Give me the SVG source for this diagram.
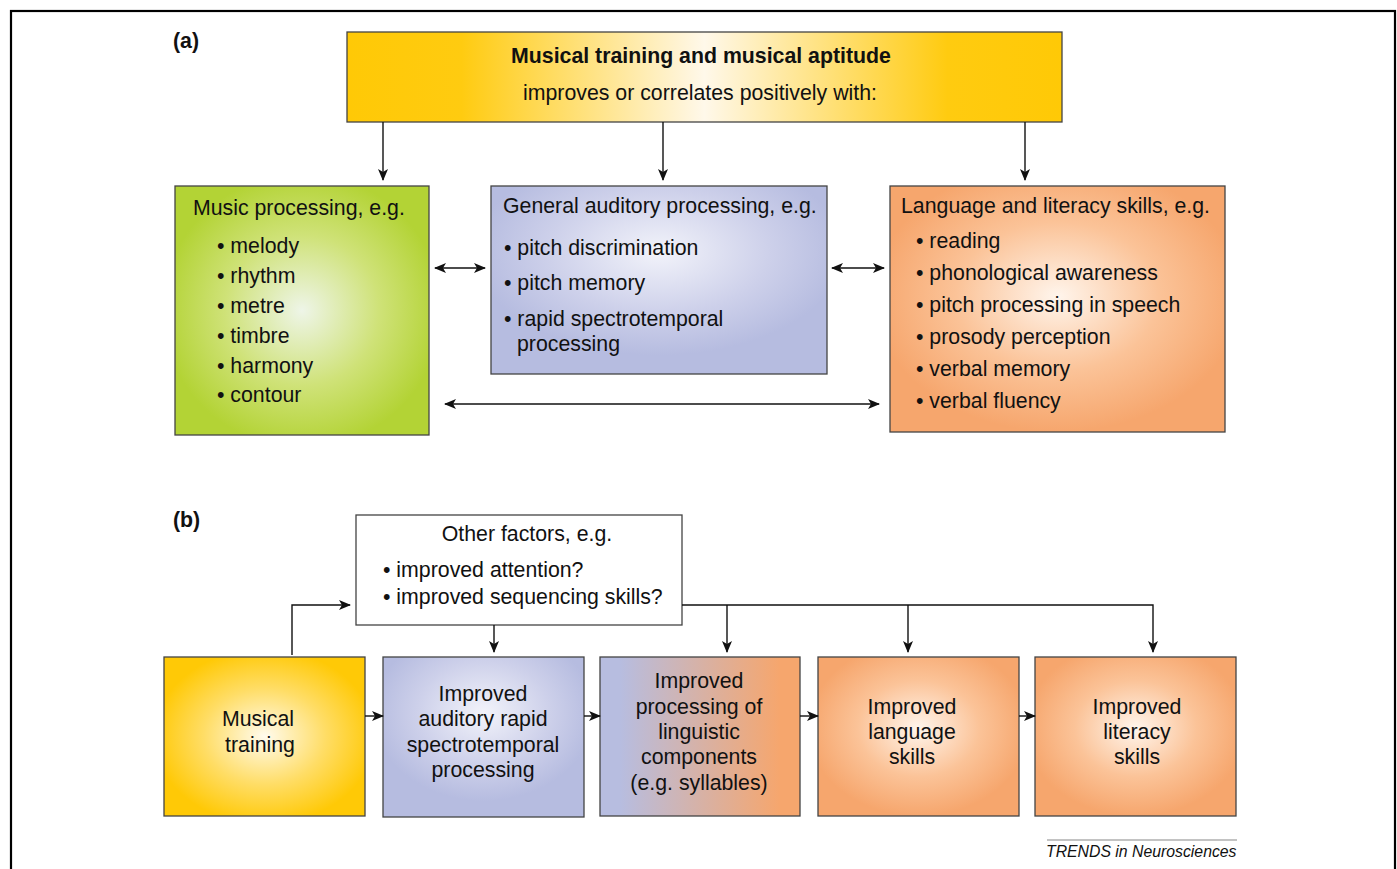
<svg xmlns="http://www.w3.org/2000/svg" width="1397" height="869" viewBox="0 0 1397 869">
<style>
text{font-family:"Liberation Sans",Arial,sans-serif;font-size:21.3px;fill:#111}
.c{text-anchor:middle}
.b{font-weight:bold}
.box{stroke:#444;stroke-width:1.3}
.ln{stroke:#111;stroke-width:1.4;fill:none}
</style>
<defs>
<marker id="ah" viewBox="0 0 12 10" refX="11" refY="5" markerWidth="12" markerHeight="10" markerUnits="userSpaceOnUse" orient="auto-start-reverse">
<path d="M0,0 L12,5 L0,10 L3,5 z" fill="#111"/>
</marker>
<linearGradient id="gTop" x1="0" y1="0" x2="1" y2="0">
<stop offset="0" stop-color="#FFC906"/><stop offset="0.16" stop-color="#FFCB10"/><stop offset="0.36" stop-color="#FFE58F"/><stop offset="0.5" stop-color="#FFF8EA"/><stop offset="0.64" stop-color="#FFE58F"/><stop offset="0.84" stop-color="#FFCB10"/><stop offset="1" stop-color="#FFC906"/>
</linearGradient>
<radialGradient id="gGreen" cx="0.5" cy="0.5" r="0.55">
<stop offset="0" stop-color="#EEF5E8"/><stop offset="0.55" stop-color="#CFE278"/><stop offset="1" stop-color="#B3D335"/>
</radialGradient>
<radialGradient id="gBlue" cx="0.5" cy="0.35" r="0.55">
<stop offset="0" stop-color="#F2F3FA"/><stop offset="0.6" stop-color="#CDD0EA"/><stop offset="1" stop-color="#B6BCE0"/>
</radialGradient>
<radialGradient id="gOrange" cx="0.5" cy="0.45" r="0.55">
<stop offset="0" stop-color="#FFF5EC"/><stop offset="0.55" stop-color="#FBC398"/><stop offset="1" stop-color="#F6A66D"/>
</radialGradient>
<radialGradient id="gYellow" cx="0.5" cy="0.5" r="0.55">
<stop offset="0" stop-color="#FFFBEE"/><stop offset="0.55" stop-color="#FFDD66"/><stop offset="1" stop-color="#FFC906"/>
</radialGradient>
<linearGradient id="gMix" x1="0" y1="0" x2="1" y2="0">
<stop offset="0.1" stop-color="#B7BDE0"/><stop offset="0.9" stop-color="#F6A66D"/>
</linearGradient>
</defs>

<rect x="11" y="11" width="1384" height="870" fill="none" stroke="#000" stroke-width="2.2"/>

<text x="173" y="48" class="b">(a)</text>
<text x="173" y="527" class="b">(b)</text>

<g id="top">
<rect class="box" x="347" y="32" width="715" height="90" fill="url(#gTop)"/>
<text x="701" y="63" class="c b">Musical training and musical aptitude</text>
<text x="700" y="100" class="c">improves or correlates positively with:</text>
</g>

<g id="music">
<rect class="box" x="175" y="186" width="254" height="249" fill="url(#gGreen)"/>
<text x="193" y="215">Music processing, e.g.</text>
<text x="217" y="253">• melody</text>
<text x="217" y="283">• rhythm</text>
<text x="217" y="313">• metre</text>
<text x="217" y="343">• timbre</text>
<text x="217" y="373">• harmony</text>
<text x="217" y="402">• contour</text>
</g>

<g id="auditory">
<rect class="box" x="491" y="186" width="336" height="188" fill="url(#gBlue)"/>
<text x="503" y="213">General auditory processing, e.g.</text>
<text x="504" y="255">• pitch discrimination</text>
<text x="504" y="290">• pitch memory</text>
<text x="504" y="326">• rapid spectrotemporal</text>
<text x="517" y="351">processing</text>
</g>

<g id="language">
<rect class="box" x="890" y="186" width="335" height="246" fill="url(#gOrange)"/>
<text x="901" y="213">Language and literacy skills, e.g.</text>
<text x="916" y="248">• reading</text>
<text x="916" y="280">• phonological awareness</text>
<text x="916" y="312">• pitch processing in speech</text>
<text x="916" y="344">• prosody perception</text>
<text x="916" y="376">• verbal memory</text>
<text x="916" y="408">• verbal fluency</text>
</g>

<g id="other">
<rect class="box" x="356" y="515" width="326" height="110" fill="#fff"/>
<text x="527" y="541" class="c">Other factors, e.g.</text>
<text x="383" y="577">• improved attention?</text>
<text x="383" y="604">• improved sequencing skills?</text>
</g>

<g id="training">
<rect class="box" x="164" y="657" width="201" height="159" fill="url(#gYellow)"/>
<text x="258" y="726" class="c">Musical</text>
<text x="260" y="752" class="c">training</text>
</g>

<g id="rapid">
<rect class="box" x="383" y="657" width="201" height="160" fill="url(#gBlue)"/>
<text x="483" y="701" class="c">Improved</text>
<text x="483" y="726" class="c">auditory rapid</text>
<text x="483" y="752" class="c">spectrotemporal</text>
<text x="483" y="777" class="c">processing</text>
</g>

<g id="linguistic">
<rect class="box" x="600" y="657" width="200" height="159" fill="url(#gMix)"/>
<text x="699" y="688" class="c">Improved</text>
<text x="699" y="714" class="c">processing of</text>
<text x="699" y="739" class="c">linguistic</text>
<text x="699" y="764" class="c">components</text>
<text x="699" y="790" class="c">(e.g. syllables)</text>
</g>

<g id="langskills">
<rect class="box" x="818" y="657" width="201" height="159" fill="url(#gOrange)"/>
<text x="912" y="714" class="c">Improved</text>
<text x="912" y="739" class="c">language</text>
<text x="912" y="764" class="c">skills</text>
</g>

<g id="literacy">
<rect class="box" x="1035" y="657" width="201" height="159" fill="url(#gOrange)"/>
<text x="1137" y="714" class="c">Improved</text>
<text x="1137" y="739" class="c">literacy</text>
<text x="1137" y="764" class="c">skills</text>
</g>

<g id="connectors">
<line class="ln" x1="383" y1="122" x2="383" y2="180" marker-end="url(#ah)"/>
<line class="ln" x1="663" y1="122" x2="663" y2="180" marker-end="url(#ah)"/>
<line class="ln" x1="1025" y1="122" x2="1025" y2="180" marker-end="url(#ah)"/>
<line class="ln" x1="435" y1="268" x2="485" y2="268" marker-start="url(#ah)" marker-end="url(#ah)"/>
<line class="ln" x1="832" y1="268" x2="884" y2="268" marker-start="url(#ah)" marker-end="url(#ah)"/>
<line class="ln" x1="445" y1="404" x2="879" y2="404" marker-start="url(#ah)" marker-end="url(#ah)"/>
<polyline class="ln" points="292,655 292,605 350,605" marker-end="url(#ah)"/>
<line class="ln" x1="494" y1="625" x2="494" y2="652" marker-end="url(#ah)"/>
<polyline class="ln" points="682,605 1153,605 1153,652" marker-end="url(#ah)"/>
<line class="ln" x1="727" y1="605" x2="727" y2="652" marker-end="url(#ah)"/>
<line class="ln" x1="908" y1="605" x2="908" y2="652" marker-end="url(#ah)"/>
<line class="ln" x1="365" y1="716" x2="383" y2="716" marker-end="url(#ah)"/>
<line class="ln" x1="584" y1="716" x2="600" y2="716" marker-end="url(#ah)"/>
<line class="ln" x1="800" y1="716" x2="818" y2="716" marker-end="url(#ah)"/>
<line class="ln" x1="1019" y1="716" x2="1035" y2="716" marker-end="url(#ah)"/>
</g>

<line x1="1047" y1="840" x2="1237" y2="840" stroke="#888" stroke-width="1.2"/>
<text x="1046" y="857" style="font-size:15.8px;font-style:italic">TRENDS in Neurosciences</text>
</svg>
